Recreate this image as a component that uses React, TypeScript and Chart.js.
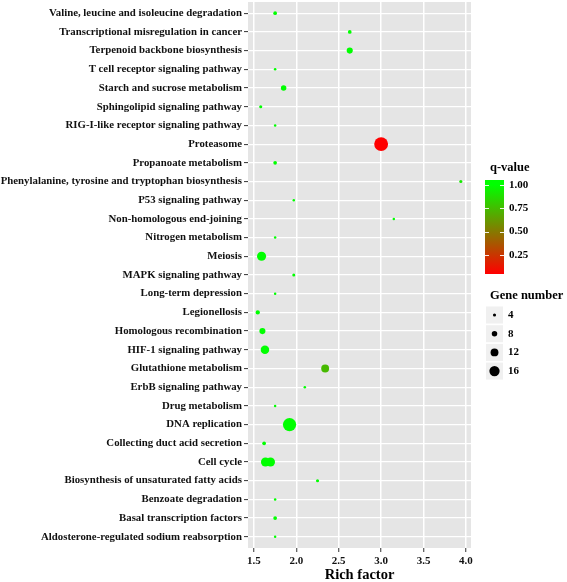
import React, { useEffect, useRef } from "react";
import { Chart, registerables } from "chart.js";

Chart.register(...registerables);

// Categories, top to bottom
const pathways = [
  "Valine, leucine and isoleucine degradation",
  "Transcriptional misregulation in cancer",
  "Terpenoid backbone biosynthesis",
  "T cell receptor signaling pathway",
  "Starch and sucrose metabolism",
  "Sphingolipid signaling pathway",
  "RIG-I-like receptor signaling pathway",
  "Proteasome",
  "Propanoate metabolism",
  "Phenylalanine, tyrosine and tryptophan biosynthesis",
  "P53 signaling pathway",
  "Non-homologous end-joining",
  "Nitrogen metabolism",
  "Meiosis",
  "MAPK signaling pathway",
  "Long-term depression",
  "Legionellosis",
  "Homologous recombination",
  "HIF-1 signaling pathway",
  "Glutathione metabolism",
  "ErbB signaling pathway",
  "Drug metabolism",
  "DNA replication",
  "Collecting duct acid secretion",
  "Cell cycle",
  "Biosynthesis of unsaturated fatty acids",
  "Benzoate degradation",
  "Basal transcription factors",
  "Aldosterone-regulated sodium reabsorption",
];

// One entry per point
const pointPathway = [
  "Valine, leucine and isoleucine degradation",
  "Transcriptional misregulation in cancer",
  "Terpenoid backbone biosynthesis",
  "T cell receptor signaling pathway",
  "Starch and sucrose metabolism",
  "Sphingolipid signaling pathway",
  "RIG-I-like receptor signaling pathway",
  "Proteasome",
  "Propanoate metabolism",
  "Phenylalanine, tyrosine and tryptophan biosynthesis",
  "P53 signaling pathway",
  "Non-homologous end-joining",
  "Nitrogen metabolism",
  "Meiosis",
  "MAPK signaling pathway",
  "Long-term depression",
  "Legionellosis",
  "Homologous recombination",
  "HIF-1 signaling pathway",
  "Glutathione metabolism",
  "ErbB signaling pathway",
  "Drug metabolism",
  "DNA replication",
  "Collecting duct acid secretion",
  "Cell cycle",
  "Cell cycle",
  "Biosynthesis of unsaturated fatty acids",
  "Benzoate degradation",
  "Basal transcription factors",
  "Aldosterone-regulated sodium reabsorption",
];

const richFactor = [
  1.75, 2.63, 2.63, 1.75, 1.85, 1.58, 1.75, 3.0, 1.75, 3.94,
  1.97, 3.15, 1.75, 1.59, 1.97, 1.75, 1.545, 1.6, 1.63, 2.34,
  2.1, 1.75, 1.92, 1.62, 1.636, 1.695, 2.25, 1.75, 1.75, 1.75,
];

const qValue = [
  1.0, 1.0, 1.0, 1.0, 1.0, 1.0, 1.0, 0.05, 1.0, 0.92,
  1.0, 1.0, 1.0, 1.0, 1.0, 1.0, 1.0, 1.0, 1.0, 0.74,
  1.0, 1.0, 1.0, 1.0, 1.0, 1.0, 1.0, 1.0, 1.0, 1.0,
];

const geneNumber = [
  5, 5, 9, 3, 8, 4, 3, 22, 5, 4,
  3, 3, 3, 14, 4, 3, 6, 9, 13, 12,
  3, 3, 21, 5, 14, 14, 4, 3, 5, 3,
];

const xTicks = [1.5, 2.0, 2.5, 3.0, 3.5, 4.0];
const qTicks = [1.0, 0.75, 0.5, 0.25];
const sizeTicks = [4, 8, 12, 16];

const Q_MIN = 0.05;
const Q_MAX = 1.0;

const FONT = '"Liberation Serif", "Times New Roman", serif';

const radiusOf = (n: number) => 0.35 + 0.3 * n;
const colorOf = (q: number) => {
  const t = Math.max(0, Math.min(1, (q - Q_MIN) / (Q_MAX - Q_MIN)));
  return `rgb(${Math.round(255 * (1 - t))},${Math.round(255 * t)},0)`;
};

const bgPlugin = {
  id: "panelBg",
  beforeDraw(chart: any) {
    const { ctx, chartArea: a } = chart;
    ctx.save();
    ctx.fillStyle = "#E5E5E5";
    ctx.fillRect(a.left, a.top, a.right - a.left, a.bottom - a.top);
    ctx.restore();
  },
};

const legendPlugin = {
  id: "customLegends",
  afterDraw(chart: any) {
    const { ctx, chartArea: a } = chart;
    const lx = a.right;
    ctx.save();
    ctx.fillStyle = "#000";

    // x axis title
    ctx.textAlign = "center";
    ctx.textBaseline = "alphabetic";
    ctx.font = `bold 14.5px ${FONT}`;
    ctx.fillText("Rich factor", (a.left + a.right) / 2, 579);

    // q-value colourbar
    ctx.textAlign = "left";
    ctx.textBaseline = "middle";
    ctx.font = `bold 12.5px ${FONT}`;
    ctx.fillText("q-value", lx + 19, 168);
    const barX = lx + 14;
    const barW = 19;
    const barTop = 180;
    const barH = 94;
    const pxPerQ = 93.3;
    const y100 = barTop + 5;
    const qToY = (q: number) => y100 + (1 - q) * pxPerQ;
    const g = ctx.createLinearGradient(0, qToY(Q_MIN), 0, qToY(Q_MAX));
    g.addColorStop(0, colorOf(Q_MIN));
    g.addColorStop(1, colorOf(Q_MAX));
    ctx.fillStyle = g;
    ctx.fillRect(barX, barTop, barW, barH);
    ctx.strokeStyle = "rgba(255,255,255,0.9)";
    ctx.lineWidth = 1;
    ctx.font = `bold 11px ${FONT}`;
    qTicks.forEach((q) => {
      const y = Math.round(qToY(q)) + 0.5;
      ctx.beginPath();
      ctx.moveTo(barX, y);
      ctx.lineTo(barX + 4, y);
      ctx.moveTo(barX + barW - 4, y);
      ctx.lineTo(barX + barW, y);
      ctx.stroke();
      ctx.fillStyle = "#000";
      ctx.fillText(q.toFixed(2), barX + barW + 5, qToY(q));
    });

    // Gene number legend
    ctx.font = `bold 12.5px ${FONT}`;
    ctx.fillStyle = "#000";
    ctx.fillText("Gene number", lx + 19, 296);
    ctx.font = `bold 11px ${FONT}`;
    sizeTicks.forEach((n, i) => {
      const cy = 315 + i * 18.7;
      ctx.fillStyle = "#F0F0F0";
      ctx.fillRect(lx + 15, cy - 8.5, 17, 17);
      ctx.fillStyle = "#000";
      ctx.beginPath();
      ctx.arc(lx + 23.5, cy, radiusOf(n), 0, Math.PI * 2);
      ctx.fill();
      ctx.fillText(String(n), lx + 37, cy);
    });
    ctx.restore();
  },
};

export default function App() {
  const ref = useRef<HTMLCanvasElement | null>(null);

  useEffect(() => {
    if (!ref.current) return;
    const data = pointPathway.map((p, i) => ({
      x: richFactor[i],
      y: pathways.indexOf(p),
      r: radiusOf(geneNumber[i]),
    }));
    const chart = new Chart(ref.current, {
      type: "bubble",
      data: {
        datasets: [
          {
            data,
            backgroundColor: qValue.map(colorOf),
            borderWidth: 0,
            hoverBorderWidth: 0,
          },
        ],
      },
      options: {
        animation: false,
        responsive: false,
        devicePixelRatio: 1,
        events: [],
        layout: { autoPadding: false, padding: { left: 0, right: 96, top: 2, bottom: 0 } },
        plugins: {
          legend: { display: false },
          tooltip: { enabled: false },
          title: { display: false },
        },
        scales: {
          x: {
            type: "linear",
            min: 1.43,
            max: 4.06,
            border: { display: false },
            grid: {
              color: "#FFFFFF",
              lineWidth: 1.5,
              tickColor: "#333333",
              tickLength: 4,
              tickWidth: 1,
            },
            afterBuildTicks: (scale: any) => {
              scale.ticks = xTicks.map((v) => ({ value: v }));
            },
            afterFit: (scale: any) => {
              scale.height = 34;
              scale.paddingLeft = 0;
              scale.paddingRight = 0;
            },
            ticks: {
              autoSkip: false,
              maxRotation: 0,
              padding: 3,
              color: "#111",
              font: { family: FONT, size: 11, weight: "bold" },
              callback: (v: any) => Number(v).toFixed(1),
            },
          },
          y: {
            type: "linear",
            min: -0.6,
            max: pathways.length - 1 + 0.6,
            reverse: true,
            border: { display: false },
            grid: {
              color: "#FFFFFF",
              lineWidth: 1.2,
              tickColor: "#333333",
              tickLength: 4,
              tickWidth: 1,
            },
            afterBuildTicks: (scale: any) => {
              scale.ticks = pathways.map((_, i) => ({ value: i }));
            },
            afterFit: (scale: any) => {
              scale.width = 248;
              scale.paddingTop = 0;
              scale.paddingBottom = 0;
            },
            ticks: {
              autoSkip: false,
              padding: 2,
              color: "#111",
              font: { family: FONT, size: 10.8, weight: "bold" },
              callback: (v: any) => pathways[Math.round(Number(v))] ?? "",
            },
          },
        },
      },
      plugins: [bgPlugin, legendPlugin],
    } as any);
    return () => chart.destroy();
  }, []);

  return (
    <div style={{ position: "fixed", left: 0, top: 0, width: 567, height: 582, background: "#fff" }}>
      <canvas ref={ref} width={567} height={582} style={{ display: "block", width: 567, height: 582 }} />
    </div>
  );
}
